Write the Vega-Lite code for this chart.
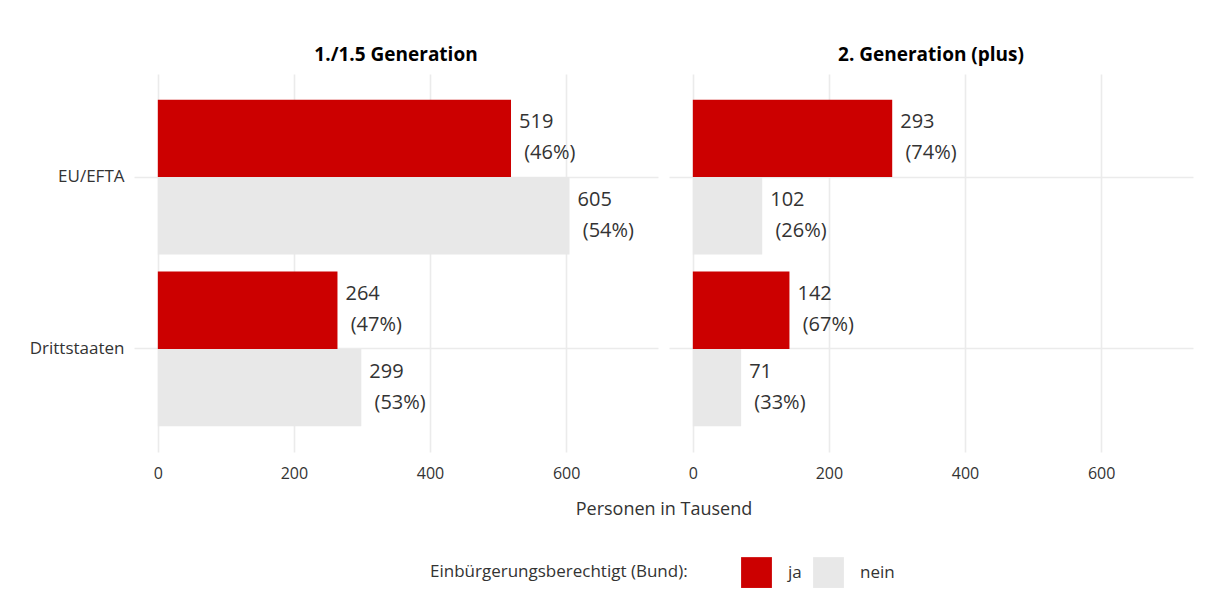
{
  "$schema": "https://vega.github.io/schema/vega-lite/v6.json",
  "padding": {"left": 29, "top": 46, "right": 5, "bottom": 5},
  "background": "white",
  "data": {"values": [
    {"gen": "1./1.5 Generation", "region": "EU/EFTA", "status": "ja", "value": 519, "label": "519\n\u200b\u00a0(46%)"},
    {"gen": "1./1.5 Generation", "region": "EU/EFTA", "status": "nein", "value": 605, "label": "605\n\u200b\u00a0(54%)"},
    {"gen": "1./1.5 Generation", "region": "Drittstaaten", "status": "ja", "value": 264, "label": "264\n\u200b\u00a0(47%)"},
    {"gen": "1./1.5 Generation", "region": "Drittstaaten", "status": "nein", "value": 299, "label": "299\n\u200b\u00a0(53%)"},
    {"gen": "2. Generation (plus)", "region": "EU/EFTA", "status": "ja", "value": 293, "label": "293\n\u200b\u00a0(74%)"},
    {"gen": "2. Generation (plus)", "region": "EU/EFTA", "status": "nein", "value": 102, "label": "102\n\u200b\u00a0(26%)"},
    {"gen": "2. Generation (plus)", "region": "Drittstaaten", "status": "ja", "value": 142, "label": "142\n\u200b\u00a0(67%)"},
    {"gen": "2. Generation (plus)", "region": "Drittstaaten", "status": "nein", "value": 71, "label": "71\n\u200b\u00a0(33%)"}
  ]},
  "facet": {
    "column": {
      "field": "gen", "type": "nominal",
      "sort": ["1./1.5 Generation", "2. Generation (plus)"],
      "title": "Personen in Tausend",
      "header": {"titleOrient": "bottom", "labelOrient": "top", "titleFont": "Open Sans", "titleFontSize": 18, "titleFontWeight": "normal", "titleColor": "#333333", "titlePadding": 10, "labelFont": "Open Sans", "labelFontSize": 19, "labelFontWeight": "bold", "labelColor": "#000000", "labelPadding": 9}
    }
  },
  "spacing": 11,
  "spec": {
    "width": 524,
    "height": 378,
    "encoding": {
      "y": {
        "field": "region", "type": "nominal", "sort": ["EU/EFTA", "Drittstaaten"],
        "scale": {"paddingInner": 0.1, "paddingOuter": 0.15},
        "axis": {"title": null, "bandPosition": 0.5, "domain": false, "ticks": false, "labelPadding": 10, "labelFontSize": 17, "labelColor": "#333333", "grid": true, "gridColor": "#EBEBEB", "gridWidth": 1.6}
      },
      "yOffset": {"field": "status", "type": "nominal", "sort": ["ja", "nein"]},
      "x": {
        "field": "value", "type": "quantitative",
        "scale": {"domain": [-35, 735], "nice": false, "zero": false},
        "axis": {"values": [0, 200, 400, 600], "title": null, "domain": false, "ticks": false, "labelPadding": 13, "labelFontSize": 16, "labelColor": "#333333", "gridColor": "#EBEBEB", "gridWidth": 1.6}
      }
    },
    "layer": [
      {
        "mark": {"type": "bar"},
        "encoding": {
          "x2": {"datum": 0},
          "color": {
            "field": "status", "type": "nominal",
            "scale": {"domain": ["ja", "nein"], "range": ["#CC0000", "#E8E8E8"]},
            "legend": {"title": "Einbürgerungsberechtigt (Bund):", "orient": "none", "legendX": 296, "legendY": 483, "direction": "horizontal", "titleOrient": "left", "titleLimit": 0, "symbolType": "square", "symbolSize": 950, "symbolStrokeWidth": 0, "labelFontSize": 17, "labelColor": "#333333", "labelOffset": 16, "columnPadding": 11, "titleFontSize": 17, "titleFontWeight": "normal", "titleColor": "#333333", "titlePadding": 53}
          }
        }
      },
      {
        "mark": {"type": "text", "align": "left", "baseline": "middle", "dx": 8, "dy": -16, "lineBreak": "\n", "lineHeight": 31, "fontSize": 20, "color": "#333333"},
        "encoding": {"text": {"field": "label", "type": "nominal"}}
      }
    ]
  },
  "config": {
    "font": "Open Sans",
    "view": {"stroke": null}
  }
}
